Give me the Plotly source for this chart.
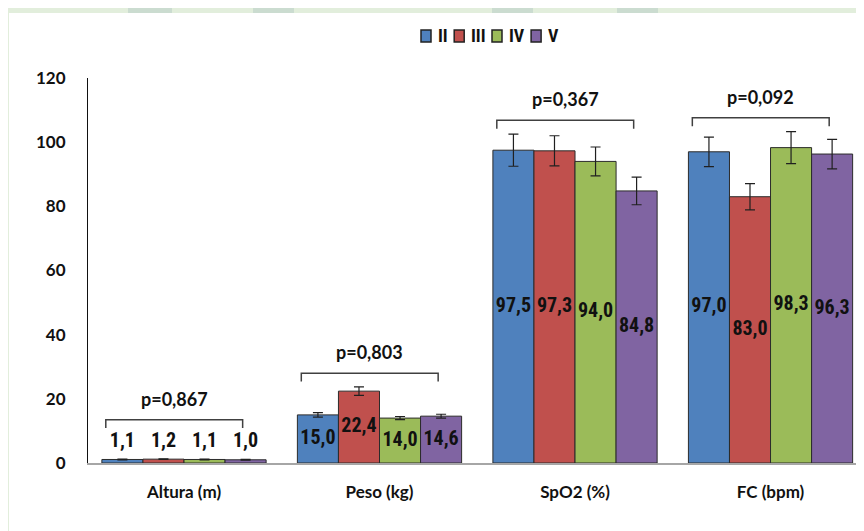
import plotly.graph_objects as go

# ---------------- data ----------------
categories = ["Altura (m)", "Peso (kg)", "SpO2 (%)", "FC (bpm)"]
series_names = ["II", "III", "IV", "V"]
colors = ["#4f81bd", "#c0504d", "#9bbb59", "#8064a2"]

values_II = [1.1, 15.0, 97.5, 97.0]
values_III = [1.2, 22.4, 97.3, 83.0]
values_IV = [1.1, 14.0, 94.0, 98.3]
values_V = [1.0, 14.6, 84.8, 96.3]

err_II = [0.1, 0.7, 5.0, 4.6]
err_III = [0.1, 1.3, 4.7, 4.1]
err_IV = [0.1, 0.5, 4.5, 5.0]
err_V = [0.1, 0.6, 4.3, 4.6]

p_values = ["p=0,867", "p=0,803", "p=0,367", "p=0,092"]

y_ticks = [0, 20, 40, 60, 80, 100, 120]

series_values = [values_II, values_III, values_IV, values_V]
series_errors = [err_II, err_III, err_IV, err_V]

# ---------------- layout constants ----------------
W, H = 864, 531
OFF = 8  # page body margin of the html document
ML, MR, MT, MB = 80, 0, 70, 76
PW, PH = W - ML - MR, H - MT - MB
group_frac = 0.84
n_series = len(series_names)
bar_w = group_frac / n_series
x_range = [-0.491, 3.519]

MAIN = "Lato, Carlito, Calibri, 'Open Sans', sans-serif"
NARROW = "'Liberation Sans Narrow', 'Arial Narrow', 'Roboto Condensed', 'DejaVu Sans Condensed', sans-serif"


def fmt(v):
    return f"{v:.1f}".replace(".", ",")


def px_to_paper_x(px):
    # px in page coordinates
    return (px - OFF - ML) / PW


def px_to_paper_y(py):
    return 1 + (MT - (py - OFF)) / PH


fig = go.Figure()
cat_x = list(range(len(categories)))

label_x, label_y, label_t = [], [], []
group_top = [0.0] * len(categories)

for i, (name, vals, errs, col) in enumerate(zip(series_names, series_values, series_errors, colors)):
    offset = -group_frac / 2 + i * bar_w
    fig.add_trace(go.Bar(
        x=cat_x, y=vals, name=name, width=bar_w, offset=offset,
        marker=dict(color=col, line=dict(color="#2b2b2b", width=1)),
        error_y=dict(type="data", array=errs, visible=True, color="#202020", thickness=1.2, width=5),
        showlegend=False, hoverinfo="skip",
    ))
    for k, (v, e) in enumerate(zip(vals, errs)):
        cx = k + offset + bar_w / 2
        if v >= 5:
            ly = v / 2
            top = v + e
        else:
            ly = v + 5.5
            top = ly + 2.5
        group_top[k] = max(group_top[k], top)
        label_x.append(cx)
        label_y.append(ly)
        label_t.append(fmt(v))

fig.add_trace(go.Scatter(
    x=label_x, y=label_y, text=label_t, mode="text",
    textfont=dict(family=NARROW, size=20, color="#111111", weight="bold"),
    showlegend=False, hoverinfo="skip",
))

shapes = []
annotations = []

# background: light green page with white panel and darker blocks at top
paper_bg = "#e2eedc"
for bx0, bx1 in [(128, 172), (253, 294), (492, 533), (617, 658)]:
    shapes.append(dict(type="rect", xref="paper", yref="paper",
                       x0=px_to_paper_x(bx0), x1=px_to_paper_x(bx1), y0=px_to_paper_y(13), y1=px_to_paper_y(0),
                       fillcolor="#cbdcd0", line=dict(width=0), layer="below"))
shapes.append(dict(type="rect", xref="paper", yref="paper",
                   x0=px_to_paper_x(9), x1=px_to_paper_x(W + OFF), y0=px_to_paper_y(H + OFF), y1=px_to_paper_y(13),
                   fillcolor="#ffffff", line=dict(width=0), layer="below"))

# brackets with p-values
for k, (cx, p) in enumerate(zip(cat_x, p_values)):
    by = group_top[k] + 4.3
    x0, x1 = cx - 0.40, cx + 0.30
    shapes.append(dict(type="path", xref="x", yref="y",
                       path=f"M{x0},{by - 2.6} L{x0},{by} L{x1},{by} L{x1},{by - 2.6}",
                       line=dict(color="#404040", width=1.5)))
    annotations.append(dict(x=(x0 + x1) / 2, y=by, xref="x", yref="y", text=p, showarrow=False,
                            yanchor="middle", yshift=21,
                            font=dict(family=MAIN, size=18, color="#111111", weight="bold")))

# legend (manual, compact like the original)
lx = 421
ly_c = 36
for name, col in zip(series_names, colors):
    shapes.append(dict(type="rect", xref="paper", yref="paper",
                       x0=px_to_paper_x(lx), x1=px_to_paper_x(lx + 10),
                       y0=px_to_paper_y(ly_c + 6), y1=px_to_paper_y(ly_c - 6),
                       fillcolor=col, line=dict(color="#222222", width=1.5)))
    annotations.append(dict(x=px_to_paper_x(lx + 15), y=px_to_paper_y(ly_c), xref="paper", yref="paper",
                            text=name, showarrow=False, xanchor="left", yanchor="middle",
                            font=dict(family=NARROW, size=18, color="#111111", weight="bold")))
    tw = 4.6 * name.count("I") + 10.5 * name.count("V")
    lx += 15 + tw + 9

fig.update_layout(
    width=W, height=H,
    margin=dict(l=ML, r=MR, t=MT, b=MB, pad=0),
    paper_bgcolor=paper_bg, plot_bgcolor="rgba(0,0,0,0)",
    barmode="overlay",
    shapes=shapes, annotations=annotations,
    showlegend=False,
    xaxis=dict(range=x_range, tickvals=cat_x, ticktext=categories, showgrid=False, zeroline=False,
               showline=True, linecolor="#a6a6a6", linewidth=2, ticks="",
               ticklabelstandoff=13,
               tickfont=dict(family=MAIN, size=17, color="#111111", weight="bold")),
    yaxis=dict(range=[0, 120], tickvals=y_ticks, showgrid=False, zeroline=False,
               showline=True, linecolor="#111111", linewidth=1, ticks="",
               ticklabelstandoff=18,
               tickfont=dict(family=MAIN, size=17, color="#111111", weight="bold")),
)

fig.write_html("out.html")
